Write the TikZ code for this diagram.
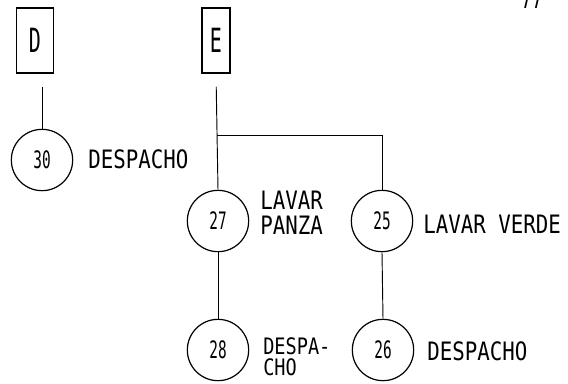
\documentclass[tikz,border=0pt]{standalone}
\usepackage{fontspec}
\newfontfamily\dotfont[FakeStretch=0.82]{DejaVu Sans Mono}
\newfontfamily\narrowfont[FakeStretch=0.6]{DejaVu Sans Mono}
\usetikzlibrary{positioning}
\tikzstyle{rectblock} = [rectangle, draw, line width=0.8pt, minimum width=28pt, minimum height=48.75pt, inner sep=0pt, font=\narrowfont\fontsize{25}{25}\selectfont]
\tikzstyle{step circle} = [circle, draw, line width=0.9pt, minimum size=46pt, inner sep=0pt, font=\narrowfont\fontsize{18}{18}\selectfont]
\tikzstyle{label} = [anchor=west, inner sep=0pt, align=left, font=\dotfont\fontsize{19}{18.75}\selectfont]
\tikzstyle{link} = [draw, line width=0.7pt]

\begin{document}
\begin{tikzpicture}[x=0.75pt, y=-0.75pt]
    \useasboundingbox (0,0) rectangle (568,383);

    % page number, cut at the top
    \node[anchor=south, inner sep=0pt, font=\narrowfont\fontsize{22}{22}\selectfont] at (532,9) (page) {77};

    % boxes
    \node[rectblock] at (35,40.5) (d) {D};
    \node[rectblock, minimum width=21pt] at (216,40.5) (e) {E};

    % steps
    \node[step circle] at (42,160) (n30) {30};
    \node[step circle] at (218,221) (n27) {27};
    \node[step circle] at (382,221) (n25) {25};
    \node[step circle] at (218,350) (n28) {28};
    \node[step circle] at (383,350) (n26) {26};

    % labels
    \node[label] at (88,159) (l30) {DESPACHO};
    \node[label] at (260,213) (l27) {LAVAR\\PANZA};
    \node[label] at (423,224) (l25) {LAVAR VERDE};
    \node[label, font=\dotfont\fontsize{17}{16}\selectfont] at (263,357) (l28) {DESPA-\\CHO};
    \node[label] at (427,351) (l26) {DESPACHO};

    % connectors
    \coordinate (br) at (217,135);
    \path[link, shorten <=9.75pt] (n30.north |- d.south) -- (n30.north);
    \path[link, shorten <=9.75pt] (e.south) -- (n27.north);
    \path[link] (br) -| (n25.north);
    \path[link] (n27.south) -- (n28.north);
    \path[link] (n25.south) -- (n26.north);

\end{tikzpicture}
\end{document}
